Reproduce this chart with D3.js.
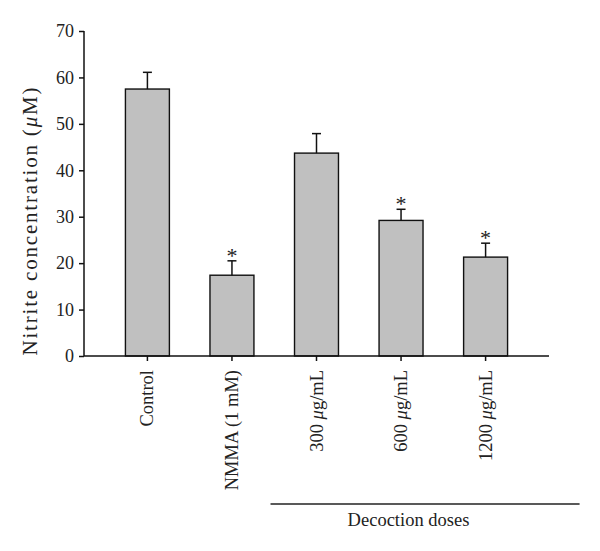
<!DOCTYPE html>
<html><head><meta charset="utf-8">
<script src="https://cdn.jsdelivr.net/npm/d3@7"></script>
<style>body{margin:0;background:#fff;} text{font-family:"Liberation Serif","DejaVu Serif",serif;fill:#222;}</style>
</head><body>
<svg id="c" width="600" height="551"></svg>
<script>
const categories = ["Control", "NMMA (1 mM)", "300 μg/mL", "600 μg/mL", "1200 μg/mL"];
const means = [57.5, 17.4, 43.7, 29.2, 21.3];
const errors = [3.6, 3.1, 4.2, 2.4, 3.0];
const significant = [false, true, false, true, true];
const yTicks = [0, 10, 20, 30, 40, 50, 60, 70];
const groupLabel = "Decoction doses";
const groupMembers = ["300 μg/mL", "600 μg/mL", "1200 μg/mL"];

(function(){
const svg = d3.select("#c");
const L = 84, R = 549, T = 31, B = 356;
const x = d3.scaleBand().domain(categories).range([L, R]).paddingInner(0.48).paddingOuter(0.49);
const y = d3.scaleLinear().domain([0, 70]).range([B, T]);

const data = categories.map((c, i) => ({c, m: means[i], e: errors[i], s: significant[i]}));

// bars
svg.selectAll("rect.bar").data(data).enter().append("rect")
  .attr("x", d => x(d.c)).attr("width", x.bandwidth())
  .attr("y", d => y(d.m)).attr("height", d => y(0) - y(d.m))
  .attr("fill", "#c0c0c0").attr("stroke", "#111").attr("stroke-width", 1.4);

// error bars
const eg = svg.selectAll("g.err").data(data).enter().append("g");
eg.append("line").attr("x1", d => x(d.c) + x.bandwidth()/2).attr("x2", d => x(d.c) + x.bandwidth()/2)
  .attr("y1", d => y(d.m)).attr("y2", d => y(d.m + d.e)).attr("stroke", "#111").attr("stroke-width", 1.5);
eg.append("line").attr("x1", d => x(d.c) + x.bandwidth()/2 - 4.5).attr("x2", d => x(d.c) + x.bandwidth()/2 + 4.5)
  .attr("y1", d => y(d.m + d.e)).attr("y2", d => y(d.m + d.e)).attr("stroke", "#111").attr("stroke-width", 1.5);

// stars
svg.selectAll("text.star").data(data.filter(d => d.s)).enter().append("text")
  .attr("x", d => x(d.c) + x.bandwidth()/2).attr("y", d => y(d.m + d.e) + 2)
  .attr("text-anchor", "middle").style("font-size", "22px").text("*");

// axes
const yAxis = d3.axisLeft(y).tickValues(yTicks).tickSize(5).tickSizeOuter(0).tickPadding(5);
const gy = svg.append("g").attr("transform", `translate(${L},0)`).call(yAxis);
const xAxis = d3.axisBottom(x).tickSize(5).tickSizeOuter(0).tickFormat("");
const gx = svg.append("g").attr("transform", `translate(0,${B})`).call(xAxis);
[gx, gy].forEach(g => {
  g.selectAll("path,line").attr("stroke", "#111").attr("stroke-width", 1.5);
  g.select(".domain").remove();
});
gy.append("line").attr("x1", 0).attr("x2", 0).attr("y1", T).attr("y2", B).attr("stroke", "#111").attr("stroke-width", 1.5);
gx.append("line").attr("x1", L).attr("x2", R).attr("y1", 0).attr("y2", 0).attr("stroke", "#111").attr("stroke-width", 1.5);
gy.selectAll("text").style("font-size", "18px").style("font-family", "Liberation Serif").attr("fill", "#222");

// x labels rotated (μ italic)
svg.selectAll("text.xl").data(categories).enter().append("text")
  .attr("transform", d => `translate(${x(d) + x.bandwidth()/2 + 6},${B + 14}) rotate(-90)`)
  .attr("text-anchor", "end").style("font-size", "18.5px")
  .each(function(d) {
    const parts = d.split("μ");
    const t = d3.select(this);
    parts.forEach((p, i) => {
      if (i > 0) t.append("tspan").attr("font-style", "italic").text("μ");
      t.append("tspan").text(p);
    });
  });

// y title
svg.append("text").attr("transform", `translate(37,221.5) rotate(-90)`)
  .attr("text-anchor", "middle").style("font-size", "21px")
  .attr("textLength", 268).attr("lengthAdjust", "spacing")
  .html('Nitrite concentration (<tspan font-style="italic">μ</tspan>M)');

// group bracket
const gx0 = x(groupMembers[0]) - 24, gx1 = x(groupMembers[groupMembers.length-1]) + x.bandwidth() + 72;
svg.append("line").attr("x1", gx0).attr("x2", gx1).attr("y1", 504).attr("y2", 504).attr("stroke", "#222").attr("stroke-width", 1.5);
svg.append("text").attr("x", 408.5).attr("y", 526).attr("text-anchor", "middle").style("font-size", "18.5px").text(groupLabel);
})();
</script>
</body></html>
